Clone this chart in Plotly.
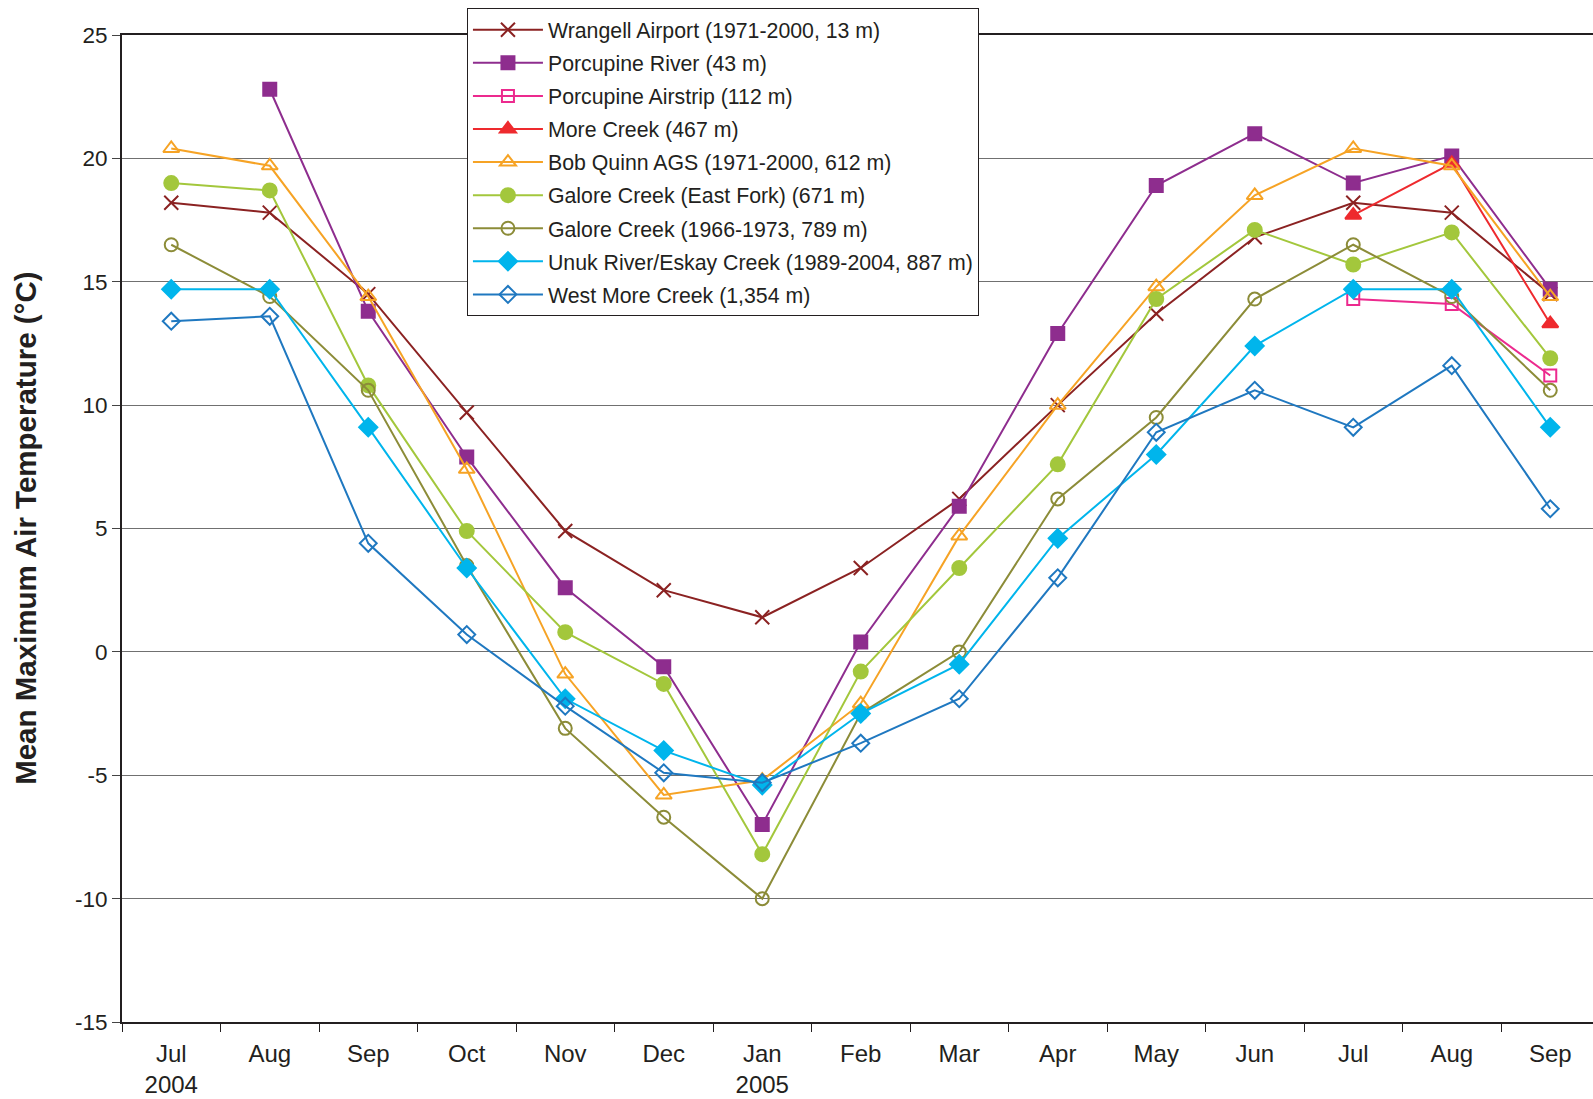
import plotly.graph_objects as go

# Monthly mean maximum air temperature (°C), Jul 2004 – Sep 2005
months = ["Jul<br>2004", "Aug", "Sep", "Oct", "Nov", "Dec", "Jan<br>2005",
          "Feb", "Mar", "Apr", "May", "Jun", "Jul", "Aug", "Sep"]
x_idx = list(range(len(months)))

y_ticks = [-15, -10, -5, 0, 5, 10, 15, 20, 25]
y_tick_text = ["-15", "-10", "-5", "0", "5", "10", "15", "20", "25"]

wrangell = [18.2, 17.8, 14.5, 9.7, 4.9, 2.5, 1.4, 3.4, 6.2, 10.0, 13.7, 16.8, 18.2, 17.8, 14.5]
porcupine_river = [None, 22.8, 13.8, 7.9, 2.6, -0.6, -7.0, 0.4, 5.9, 12.9, 18.9, 21.0, 19.0, 20.1, 14.7]
porcupine_airstrip = [None] * 12 + [14.3, 14.1, 11.2]
more_creek = [None] * 12 + [17.7, 19.8, 13.3]
bob_quinn = [20.4, 19.7, 14.4, 7.4, -0.9, -5.8, -5.2, -2.1, 4.7, 10.0, 14.8, 18.5, 20.4, 19.7, 14.4]
galore_east = [19.0, 18.7, 10.8, 4.9, 0.8, -1.3, -8.2, -0.8, 3.4, 7.6, 14.3, 17.1, 15.7, 17.0, 11.9]
galore_hist = [16.5, 14.4, 10.6, 3.5, -3.1, -6.7, -10.0, -2.5, 0.0, 6.2, 9.5, 14.3, 16.5, 14.4, 10.6]
unuk = [14.7, 14.7, 9.1, 3.4, -1.9, -4.0, -5.4, -2.5, -0.5, 4.6, 8.0, 12.4, 14.7, 14.7, 9.1]
west_more = [13.4, 13.6, 4.4, 0.7, -2.2, -4.9, -5.3, -3.7, -1.9, 3.0, 8.9, 10.6, 9.1, 11.6, 5.8]

series = [
    ("Wrangell Airport (1971-2000, 13 m)", wrangell, "#8B2222", "x-thin-open", 14),
    ("Porcupine River (43 m)", porcupine_river, "#8E2D8E", "square", 13),
    ("Porcupine Airstrip (112 m)", porcupine_airstrip, "#EC2A8E", "square-open", 12),
    ("More Creek (467 m)", more_creek, "#EE2A2E", "triangle-up", 14),
    ("Bob Quinn AGS (1971-2000, 612 m)", bob_quinn, "#F6A325", "triangle-up-open", 14),
    ("Galore Creek (East Fork) (671 m)", galore_east, "#A3C73C", "circle", 14),
    ("Galore Creek (1966-1973, 789 m)", galore_hist, "#8C8C38", "circle-open", 13),
    ("Unuk River/Eskay Creek (1989-2004, 887 m)", unuk, "#00B5EC", "diamond", 14),
    ("West More Creek (1,354 m)", west_more, "#1F78C0", "diamond-open", 13),
]

FONT = "Liberation Sans, Arial, Helvetica, sans-serif"
TEXT = "#231F20"

fig = go.Figure()
for i, (name, vals, color, symbol, size) in enumerate(series):
    fig.add_trace(go.Scatter(
        x=x_idx, y=vals, name=name, mode="lines+markers",
        legendgroup=f"g{i}",
        line=dict(color=color, width=2),
        marker=dict(symbol=symbol, size=size, color=color,
                    line=dict(color=color, width=2)),
        connectgaps=False,
    ))

fig.update_layout(
    width=1593, height=1099,
    margin=dict(l=122, r=0, t=35, b=77),
    paper_bgcolor="white", plot_bgcolor="white",
    font=dict(family=FONT, color=TEXT),
    showlegend=True,
    legend=dict(
        x=0.2345, y=1.0270, xanchor="left", yanchor="top",
        bgcolor="white", bordercolor="#231F20", borderwidth=1,
        font=dict(size=21.3, family=FONT, color=TEXT),
        tracegroupgap=2.4, traceorder="grouped",
        itemwidth=70,
    ),
    annotations=[dict(
        text="<b>Mean Maximum Air Temperature (°C)</b>",
        xref="paper", yref="paper", x=-0.0657, y=0.5,
        xanchor="center", yanchor="middle", textangle=-90,
        showarrow=False, font=dict(size=29.5, family=FONT, color=TEXT),
    )],
)

fig.update_xaxes(
    range=[-0.5, 14.434],
    tickmode="array", tickvals=x_idx, ticktext=months,
    ticks="", tickfont=dict(size=24, family=FONT, color=TEXT),
    ticklabelstandoff=9,
    minor=dict(tickmode="array", tickvals=[k + 0.5 for k in range(-1, 15)],
               ticks="outside", ticklen=8, tickcolor="#231F20", tickwidth=1,
               showgrid=False),
    showline=True, linecolor="#231F20", linewidth=2, mirror=True,
    showgrid=False, zeroline=False,
)

fig.update_yaxes(
    range=[-15, 25], tickmode="array", tickvals=y_ticks, ticktext=y_tick_text,
    ticks="outside", ticklen=8, tickcolor="#444", tickwidth=1,
    tickfont=dict(size=22.5, family=FONT, color=TEXT),
    showline=True, linecolor="#231F20", linewidth=2,
    showgrid=True, gridcolor="#707070", gridwidth=1,
    zeroline=False,
)

fig.write_html("out.html")
